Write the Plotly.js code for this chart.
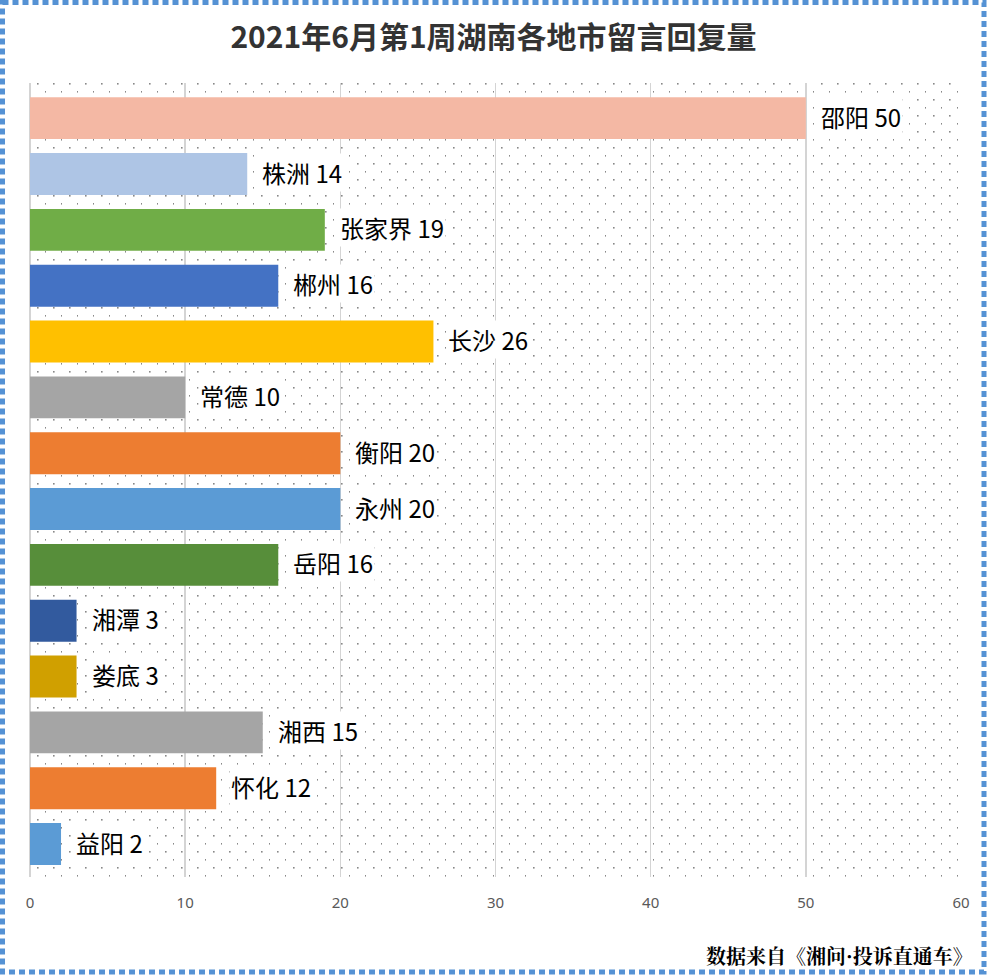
<!DOCTYPE html>
<html>
<head>
<meta charset="utf-8">
<script src="https://cdn.plot.ly/plotly-3.0.1.min.js"></script>
<style>
  html, body { margin: 0; padding: 0; background: #ffffff; }
  #wrap { position: relative; width: 987px; height: 976px; background: #ffffff; overflow: hidden; }
  #dots {
    position: absolute; left: 30px; top: 83px; width: 931px; height: 794px;
    background-image: url("data:image/svg+xml,%3Csvg xmlns='http://www.w3.org/2000/svg' width='16' height='16'%3E%3Crect x='7' y='0' width='1.6' height='1.6' fill='%23888'/%3E%3Crect x='15' y='8' width='1.6' height='1.6' fill='%23888'/%3E%3C/svg%3E");
    background-repeat: repeat;
  }
  #chart { position: absolute; left: 0; top: 0; width: 987px; height: 976px; }
  #border { position: absolute; left: 0; top: 0; pointer-events: none; }
</style>
</head>
<body>
<div id="wrap">
  <div id="dots"></div>
  <div id="chart"></div>
  <svg id="border" width="987" height="976">
    <rect x="2.5" y="2.5" width="981.5" height="969.5" fill="none" stroke="#5592D4" stroke-width="5" stroke-dasharray="6 4"/>
  </svg>
</div>
<script>
const cities = ["邵阳","株洲","张家界","郴州","长沙","常德","衡阳","永州","岳阳","湘潭","娄底","湘西","怀化","益阳"];
const replies = [50,14,19,16,26,10,20,20,16,3,3,15,12,2];
const barColors = ["#F4B8A4","#AEC5E5","#70AD47","#4472C4","#FFC000","#A5A5A5","#ED7D31","#5B9BD5","#578E3A","#325A9E","#D0A000","#A5A5A5","#ED7D31","#5B9BD5"];
const xTicks = [0,10,20,30,40,50,60];
const chartTitle = "2021年6月第1周湖南各地市留言回复量";
const sourceNote = "数据来自《湘问·投诉直通车》";

const cjk = "'Noto Sans CJK SC', 'Noto Sans', sans-serif";

const trace = {
  type: "bar",
  orientation: "h",
  x: replies,
  y: cities,
  marker: { color: barColors, line: { width: 0 } },
  hoverinfo: "none"
};

const labelAnnotations = cities.map((c, i) => ({
  x: replies[i], y: c, xref: "x", yref: "y",
  text: c + " " + replies[i],
  showarrow: false, xanchor: "left", yanchor: "middle",
  xshift: 13, yshift: 2,
  bgcolor: "#ffffff", borderpad: 1,
  font: { family: cjk, size: 24, color: "#000000" }
}));

labelAnnotations.push({
  xref: "paper", yref: "paper",
  x: (975 - 30) / 931, y: (877 - 955) / 794,
  xanchor: "right", yanchor: "middle",
  text: "<b>" + sourceNote + "</b>",
  showarrow: false,
  font: { family: "'Noto Serif CJK SC', 'Noto Sans CJK SC', serif", size: 20, color: "#000000" }
});

const layout = {
  width: 987, height: 976,
  margin: { l: 30, r: 26, t: 83, b: 99 },
  paper_bgcolor: "rgba(0,0,0,0)",
  plot_bgcolor: "rgba(0,0,0,0)",
  title: {
    text: "<b>" + chartTitle + "</b>",
    x: 0.5, xref: "container", xanchor: "center",
    y: 1 - 37 / 976, yref: "container", yanchor: "middle",
    font: { family: cjk, size: 30, color: "#333333" }
  },
  xaxis: {
    range: [0, 60],
    tickvals: xTicks,
    ticktext: xTicks.map(String),
    showgrid: true, gridcolor: "#D4D4D4", gridwidth: 1.5,
    zeroline: true, zerolinecolor: "#D4D4D4", zerolinewidth: 1.5,
    showline: false, ticks: "",
    ticklabelstandoff: 15,
    tickfont: { family: "'Noto Sans', 'Open Sans', sans-serif", size: 15, color: "#595959" },
    fixedrange: true
  },
  yaxis: {
    type: "category",
    categoryorder: "array", categoryarray: cities,
    range: [13.59, -0.63],
    showticklabels: false, showgrid: false, zeroline: false, showline: false, ticks: "",
    fixedrange: true
  },
  bargap: 0.25,
  showlegend: false,
  annotations: labelAnnotations
};

Plotly.newPlot("chart", [trace], layout, { displayModeBar: false, staticPlot: true });
</script>
</body>
</html>
